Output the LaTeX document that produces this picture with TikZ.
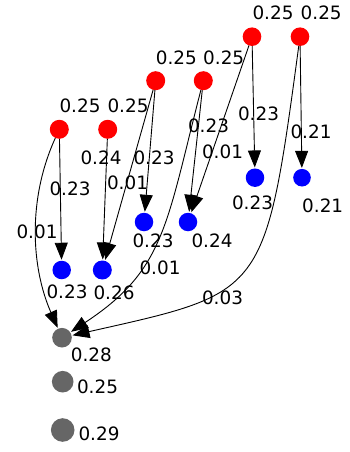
\documentclass[tikz,border=0pt]{standalone}
\usepackage{fontspec}
\setmainfont{DejaVu Sans}
\usetikzlibrary{arrows.meta}
\definecolor{nred}{HTML}{FF0000}
\definecolor{nblue}{HTML}{0000FF}
\definecolor{ngray}{HTML}{666666}
\begin{document}
\begin{tikzpicture}[x=1pt,y=-1pt,
  dot/.style={circle,inner sep=0pt,outer sep=0pt,draw=none},
  rdot/.style={dot,fill=nred,minimum size=19pt},
  bdot/.style={dot,fill=nblue,minimum size=18.5pt},
  gdot/.style={dot,fill=ngray},
  lbl/.style={inner sep=0pt,font=\fontsize{18.4}{20}\selectfont,text=black},
  edge/.style={draw=black,line width=0.9pt,-{Triangle[length=17pt,width=13pt]},shorten >=1pt}]
\useasboundingbox (0,0) rectangle (349,452);
% red nodes
\node[rdot] (R1) at (59.3,129.3) {};
\node[rdot] (R2) at (107.7,129.3) {};
\node[rdot] (R3) at (155.7,80.7) {};
\node[rdot] (R4) at (203.3,80.7) {};
\node[rdot,minimum size=18.6pt] (R5) at (252,36.7) {};
\node[rdot,minimum size=18.6pt] (R6) at (300,36.7) {};
% blue nodes
\node[bdot] (B1) at (61.7,270) {};
\node[bdot,minimum size=19pt] (B2) at (102.3,270) {};
\node[bdot] (B3) at (144,222) {};
\node[bdot] (B4) at (188,222) {};
\node[bdot] (B5) at (255,177.7) {};
\node[bdot,minimum size=17.6pt] (B6) at (302,177.7) {};
% gray nodes
\node[gdot,minimum size=19.6pt] (G1) at (62,337.7) {};
\node[gdot,minimum size=21.6pt] (G2) at (62.7,381.7) {};
\node[gdot,minimum size=23.6pt] (G3) at (62.7,430) {};
% edges
\draw[edge] (R1) -- (B1);
\draw[edge] (R2) -- (B2);
\draw[edge] (R3) -- (B2);
\draw[edge] (R3) -- (B3);
\draw[edge] (R4) -- (B4);
\draw[edge] (R5) -- (B4);
\draw[edge] (R5) -- (B5);
\draw[edge] (R6) -- (B6);
\draw[edge] (R1) .. controls (27.5,199) and (31,267) .. (G1);
\draw[edge] (R4) .. controls (166,225) and (165,270) .. (G1);
\draw[edge] (R6) .. controls (265,297) and (265,292) .. (G1);
% node labels
\node[lbl] (lR1) at (80,105.8) {0.25};
\node[lbl] (lR2) at (128,105.8) {0.25};
\node[lbl] (lR3) at (176.3,58) {0.25};
\node[lbl] (lR4) at (223.7,58) {0.25};
\node[lbl] (lR5) at (273,12.8) {0.25};
\node[lbl] (lR6) at (321.2,12.8) {0.25};
\node[lbl] (lB1) at (67,292) {0.23};
\node[lbl] (lB2) at (114,293) {0.26};
\node[lbl] (lB3) at (153,241) {0.23};
\node[lbl] (lB4) at (212,241) {0.24};
\node[lbl] (lB5) at (252.5,203) {0.23};
\node[lbl] (lB6) at (322.7,205.5) {0.21};
\node[lbl] (lG1) at (91.3,355) {0.28};
\node[lbl] (lG2) at (97.5,386.5) {0.25};
\node[lbl] (lG3) at (99,434) {0.29};
% edge labels
\node[lbl] (e1) at (70,189) {0.23};
\node[lbl] (e2) at (37,232) {0.01};
\node[lbl] (e3) at (101,158) {0.24};
\node[lbl] (e4) at (127.5,183) {0.01};
\node[lbl] (e5) at (154,158) {0.23};
\node[lbl] (e6) at (208.5,126) {0.23};
\node[lbl] (e7) at (160,268) {0.01};
\node[lbl] (e8) at (258.5,114) {0.23};
\node[lbl] (e9) at (222.5,152) {0.01};
\node[lbl] (e10) at (311,131.5) {0.21};
\node[lbl] (e11) at (222.5,297.5) {0.03};
\end{tikzpicture}
\end{document}
